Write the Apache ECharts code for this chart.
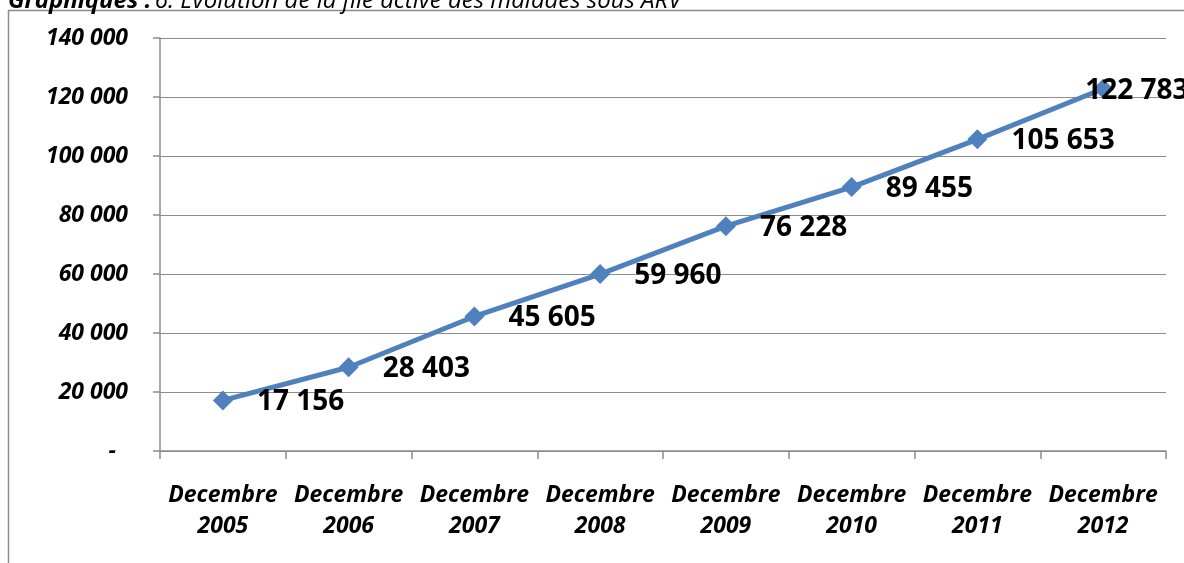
<!DOCTYPE html>
<html>
<head>
<meta charset="utf-8">
<script src="https://cdn.jsdelivr.net/npm/echarts@6/dist/echarts.min.js"></script>
<style>
html,body{margin:0;padding:0;background:#fff;}
#chart{width:1184px;height:563px;}
</style>
</head>
<body>
<div id="chart"></div>
<script>
var categories = ['Decembre\n2005','Decembre\n2006','Decembre\n2007','Decembre\n2008','Decembre\n2009','Decembre\n2010','Decembre\n2011','Decembre\n2012'];
var values = [17156, 28403, 45605, 59960, 76228, 89455, 105653, 122783];
var yMax = 140000;
var yInterval = 20000;
var titleBold = 'Graphiques :';
var titleRest = '6: Evolution de la file active des malades sous ARV';

function fmt(v){
  return String(Math.round(v)).replace(/\B(?=(\d{3})+(?!\d))/g, ' ');
}

var chart = echarts.init(document.getElementById('chart'));
var fontFam = '"Open Sans", Calibri, sans-serif';
var data = values.map(function(v, i){
  var d = {value: v};
  if (i === values.length - 1) {
    d.label = {offset: [-52, 2]};
  }
  return d;
});

chart.setOption({
  animation: false,
  backgroundColor: '#fff',
  graphic: [
    {type: 'rect', shape: {x: 8.5, y: 10.5, width: 1300, height: 700}, style: {fill: 'none', stroke: '#8c8c8c', lineWidth: 1.5}, silent: true},
    {type: 'text', x: 8, y: 13, style: {
      text: '{b|' + titleBold + '} {n|' + titleRest + '}',
      verticalAlign: 'bottom',
      rich: {
        b: {fontFamily: fontFam, fontWeight: 'bold', fontStyle: 'italic', fontSize: 24, fill: '#000'},
        n: {fontFamily: fontFam, fontStyle: 'italic', fontSize: 24, fill: '#000'}
      }
    }}
  ],
  grid: {left: 160, right: 18, top: 38, bottom: 112, containLabel: false},
  xAxis: {
    type: 'category',
    data: categories,
    boundaryGap: true,
    axisLine: {lineStyle: {color: '#8c8c8c', width: 1.5}},
    axisTick: {show: true, length: 8, lineStyle: {color: '#8c8c8c', width: 1.5}},
    axisLabel: {
      interval: 0,
      margin: 29,
      fontFamily: fontFam, fontWeight: 'bold', fontStyle: 'italic', fontSize: 23,
      color: '#000', lineHeight: 31
    }
  },
  yAxis: {
    type: 'value',
    min: 0, max: yMax, interval: yInterval,
    axisLine: {show: true, lineStyle: {color: '#8c8c8c', width: 1.5}},
    axisTick: {show: true, length: 7, lineStyle: {color: '#8c8c8c', width: 1.5}},
    splitLine: {show: true, lineStyle: {color: '#8c8c8c', width: 1.2}},
    axisLabel: {
      margin: 32,
      formatter: function(v){ return v === 0 ? '{d|-}' : fmt(v); },
      rich: {d: {padding: [0, 12, 0, 0], fontFamily: fontFam, fontWeight: 'bold', fontStyle: 'italic', fontSize: 23, color: '#000'}},
      fontFamily: fontFam, fontWeight: 'bold', fontStyle: 'italic', fontSize: 23,
      color: '#000'
    }
  },
  series: [{
    type: 'line',
    data: data,
    symbol: 'diamond',
    symbolSize: 20,
    itemStyle: {color: '#4F81BD'},
    lineStyle: {color: '#4F81BD', width: 5},
    label: {
      show: true,
      position: 'right',
      distance: 24,
      offset: [0, 2],
      formatter: function(p){ return fmt(p.value); },
      fontFamily: fontFam, fontWeight: 'bold', fontSize: 28, color: '#000'
    }
  }]
});
</script>
</body>
</html>
